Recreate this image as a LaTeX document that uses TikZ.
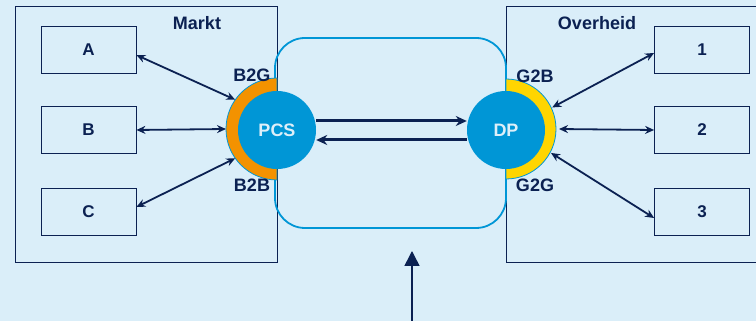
\documentclass[tikz,border=0pt]{standalone}
\usepackage{fontspec}
\setmainfont{Liberation Sans}
\usetikzlibrary{arrows.meta,positioning,calc}
\definecolor{bgblue}{HTML}{DAEEF9}
\definecolor{hubblue}{HTML}{0096D6}
\definecolor{navy}{HTML}{0B2152}
\definecolor{hubtext}{HTML}{DDEFF9}
\definecolor{markorange}{HTML}{F39200}
\definecolor{govyellow}{HTML}{FFD500}

\begin{document}
\begin{tikzpicture}[x=1pt,y=1pt,
  party/.style={draw=navy, line width=0.8pt, minimum width=95pt, minimum height=47pt,
    inner sep=0pt, text=navy, font=\fontsize{17}{20}\selectfont\bfseries},
  lbl/.style={text=navy, font=\fontsize{18}{20}\selectfont\bfseries},
  hub/.style={circle, fill=hubblue, minimum size=78pt, inner sep=0pt,
    text=hubtext, font=\fontsize{18}{20}\selectfont\bfseries},
  link/.style={navy, line width=1.8pt, {Stealth[length=9pt,width=8pt]}-{Stealth[length=9pt,width=8pt]}},
  flow/.style={navy, line width=3pt, -{Stealth[length=11pt,width=10pt]}}]

  % background
  \fill[bgblue] (0,0) rectangle (756,321);
  \clip (0,0) rectangle (756,321);

  % Markt and Overheid
  \draw[navy, line width=0.8pt] (15,59) rectangle (277,315);
  \node[lbl] (markt) at (197,298) {Markt};
  \draw[navy, line width=0.8pt] (506,59) rectangle (770,315);
  \node[lbl] (overheid) at (597,298) {Overheid};

  % platform
  \draw[hubblue, line width=1.8pt, rounded corners=30pt] (275,93) rectangle (506,283);

  % rings
  \filldraw[fill=markorange, draw=hubblue, line width=0.8pt]
    (277,243) arc[start angle=90, end angle=270, radius=51] -- cycle;
  \filldraw[fill=govyellow, draw=hubblue, line width=0.8pt]
    (506,242) arc[start angle=90, end angle=-90, radius=50] -- cycle;

  % hubs
  \node[hub] (pcs) at (277,191) {PCS};
  \node[hub] (dp) at (506,191) {DP};

  % parties
  \node[party] (a) at (88.5,271) {A};
  \node[party] (b) at (88.5,191) {B};
  \node[party] (c) at (88.5,109) {C};
  \node[party] (n1) at (702,271) {1};
  \node[party] (n2) at (702,191) {2};
  \node[party] (n3) at (702,109) {3};

  % points on the rings
  \path (277,192) ++(145:51) coordinate (pa);
  \path (277,192) ++(180:51) coordinate (pb);
  \path (277,192) ++(215:51) coordinate (pc);
  \path (506,192) ++(25:51) coordinate (g1);
  \path (506,192) ++(0:53) coordinate (g2);
  \path (506,192) ++(-28:51) coordinate (g3);

  \draw[link] ([yshift=-5pt]a.east) -- (pa);
  \draw[link] (b.east) -- (pb);
  \draw[link] ([yshift=5pt]c.east) -- (pc);
  \draw[link] (g1) -- ([yshift=-3pt]n1.west);
  \draw[link] (g2) -- (n2.west);
  \draw[link] (g3) -- ([yshift=-6pt]n3.west);

  % exchange
  \draw[flow] ([yshift=9pt]pcs.east) -- ([yshift=9pt]dp.west);
  \draw[flow] ([yshift=-10pt]dp.west) -- ([yshift=-10pt]pcs.east);

  % labels
  \node[lbl] (b2g) at (252,246) {B2G};
  \node[lbl] (b2b) at (252,136) {B2B};
  \node[lbl] (g2b) at (535,245) {G2B};
  \node[lbl] (g2g) at (535,136) {G2G};

  % input from below
  \coordinate (src) at (412,-2);
  \coordinate (dst) at (412,70);
  \draw[navy, line width=1.5pt, -{Triangle[length=15pt,width=15pt]}] (src) -- (dst);
\end{tikzpicture}
\end{document}
